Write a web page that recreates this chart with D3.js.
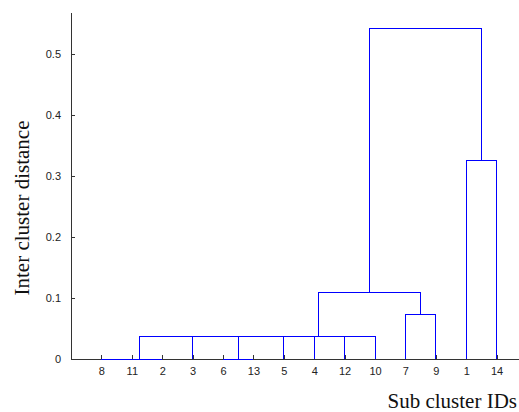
<!DOCTYPE html>
<html>
<head>
<meta charset="utf-8">
<script src="https://cdn.jsdelivr.net/npm/d3@7"></script>
<style>
  body { margin: 0; background: #fff; }
</style>
</head>
<body>
<svg id="chart" width="519" height="412"></svg>
<script>
// leaf labels in the order they appear along the x axis
const leafOrder = [8, 11, 2, 3, 6, 13, 5, 4, 12, 10, 7, 9, 1, 14];

// linkage: node 15, 16, ... are formed by merging these pairs (ids > 14 are earlier merges)
const mergeLeft  = [8, 15, 6, 3, 18, 16, 4, 20, 22, 7, 23, 1, 25];
const mergeRight = [11, 2, 13, 17, 5, 19, 12, 21, 10, 9, 24, 14, 26];
const mergeHeight = [0, 0, 0, 0.0364, 0.0364, 0.0364, 0.0364, 0.0364, 0.0364, 0.0734, 0.1093, 0.3246, 0.5405];

const yTicks = [0, 0.1, 0.2, 0.3, 0.4, 0.5];

const svg = d3.select("#chart");
const nLeaves = leafOrder.length;

const x = d3.scaleLinear()
    .domain([0, nLeaves + 1])
    .range([71, 527]);

const y = d3.scaleLinear()
    .domain([0, 0.568])
    .range([359, 12]);

// node positions
const pos = {}, hgt = {};
leafOrder.forEach((id, i) => { pos[id] = i + 1; hgt[id] = 0; });
mergeLeft.forEach((a, i) => {
    const b = mergeRight[i], id = nLeaves + 1 + i;
    pos[id] = (pos[a] + pos[b]) / 2;
    hgt[id] = mergeHeight[i];
});

// axes
svg.append("g")
    .attr("transform", `translate(0,${y(0)})`)
    .call(d3.axisBottom(x)
        .tickValues(d3.range(1, nLeaves + 1))
        .tickFormat(d => leafOrder[d - 1])
        .tickSizeInner(-4).tickSizeOuter(0).tickPadding(8));

svg.append("g")
    .attr("transform", `translate(${x(0)},0)`)
    .call(d3.axisLeft(y)
        .tickValues(yTicks)
        .tickFormat(d3.format("~g"))
        .tickSizeInner(-4).tickSizeOuter(0).tickPadding(10));

svg.selectAll(".domain").attr("stroke", "#333").attr("shape-rendering", "crispEdges");
svg.selectAll(".tick line").attr("stroke", "#333").attr("shape-rendering", "crispEdges");
svg.selectAll(".tick text")
    .attr("fill", "#222")
    .style("font-family", "'Liberation Sans', Arial, sans-serif")
    .style("font-size", "11px");

// dendrogram links
svg.append("g")
    .selectAll("path")
    .data(mergeLeft.map((a, i) => ({a, b: mergeRight[i], h: mergeHeight[i]})))
    .join("path")
    .attr("d", d => `M${x(pos[d.a])},${y(hgt[d.a])}V${y(d.h)}H${x(pos[d.b])}V${y(hgt[d.b])}`)
    .attr("fill", "none")
    .attr("stroke", "#0000ff")
    .attr("stroke-width", 1)
    .attr("shape-rendering", "crispEdges");

// axis titles
svg.append("text")
    .attr("transform", "translate(29,208) rotate(-90)")
    .attr("text-anchor", "middle")
    .style("font-family", "'Liberation Serif', 'Times New Roman', serif")
    .style("font-size", "21px")
    .attr("fill", "#111")
    .text("Inter cluster distance");

svg.append("text")
    .attr("x", 517)
    .attr("y", 408)
    .attr("text-anchor", "end")
    .style("font-family", "'Liberation Serif', 'Times New Roman', serif")
    .style("font-size", "21px")
    .attr("fill", "#111")
    .text("Sub cluster IDs");
</script>
</body>
</html>
